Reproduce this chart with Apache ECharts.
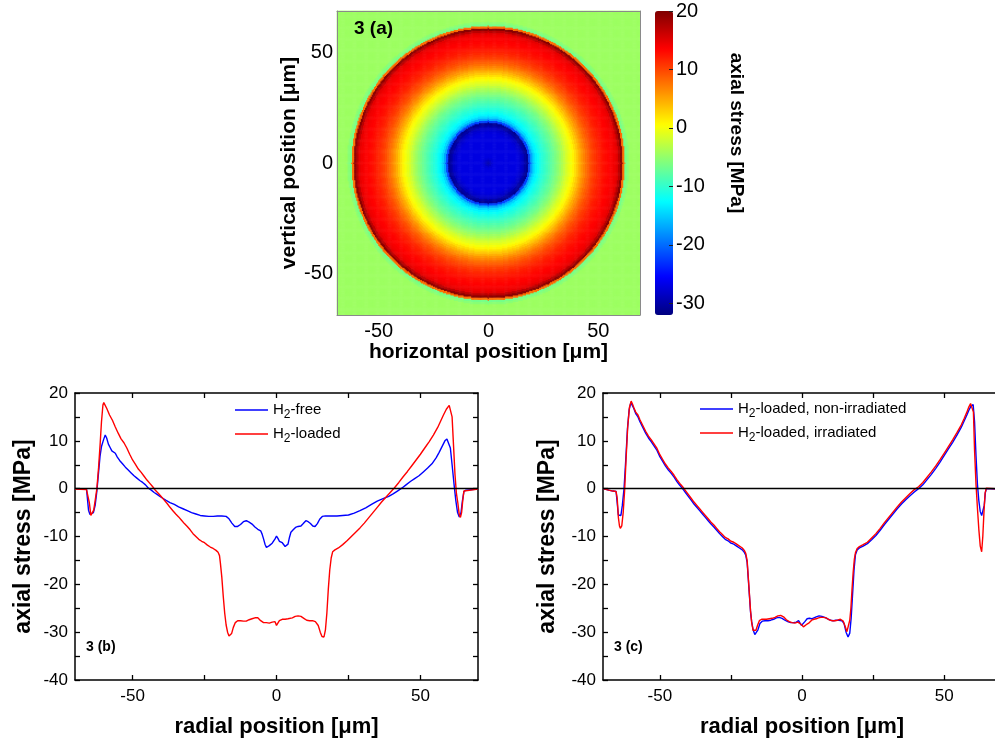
<!DOCTYPE html>
<html><head><meta charset="utf-8">
<script src="https://cdn.jsdelivr.net/npm/echarts@6/dist/echarts.min.js"></script>
<style>html,body{margin:0;padding:0;background:#fff}#c{width:995px;height:742px}</style>
</head><body><div id="c"></div>
<script>
// ---------- DATA ----------
// Panel 3(a): radial stress profile used for the 2D map (radius in µm -> stress MPa)
const mapRadius = [0,1,2,3,4,5,6,7,8,9,10,11,12,13,14,15,16,17,18,19,20,21,22,23,24,25,26,27,28,29,30,31,32,33,34,35,36,37,38,39,40,41,42,43,44,45,46,47,48,49,50,51,52,53,54,55,56,57,58,59,60,61,62,63,64,65,66,67,68,69];
const mapStress = [-29.5,-28.5,-27.5,-27,-27,-27,-27,-27,-27,-27,-27,-27,-27,-27,-27.3,-27.8,-28.5,-30,-31,-22,-17,-14.5,-13,-12,-11.2,-10.5,-9.8,-9.1,-8.4,-7.7,-7.0,-6.2,-5.4,-4.5,-3.6,-2.6,-1.6,-0.8,0.0,1.0,2.2,3.4,4.6,5.8,6.8,7.8,8.7,9.5,10.2,10.8,11.4,11.9,12.3,12.7,13.0,13.3,13.6,13.9,14.2,14.8,17.0,19.5,8,-6.5,-5.5,-4.5,-4.5,-4.5,-4.5,-4.5];
const mapTicks = [-50, 0, 50];
const colorbarTicks = [-30, -20, -10, 0, 10, 20];
const radialLabels = [-50, 0, 50];
const radialTicks = [-50, -25, 0, 25, 50];
const stressTicks = [-40,-35,-30,-25,-20,-15,-10,-5,0,5,10,15,20];
const stressLabels = [-40,-30,-20,-10,0,10,20];

// Panel 3(b)
const h2Free = [[-70,0],[-66,-0.1],[-65.6,-0.5],[-65.3,-4.5],[-64.8,-5.4],[-64.2,-5.8],[-63.6,-5.0],[-63,-3.5],[-62.4,-0.5],[-61.8,3.5],[-61.3,6.8],[-60.8,8.8],[-60.1,10.2],[-59.5,11.2],[-59,10.6],[-58.4,9.3],[-57.8,8.6],[-57.2,7.9],[-56.6,7.8],[-56,7.4],[-55.3,6.6],[-54.5,5.9],[-53.5,5.2],[-52.5,4.5],[-51.5,3.9],[-50.5,3.3],[-49.5,2.7],[-48.5,2.2],[-47.5,1.7],[-46.5,1.3],[-45.5,0.8],[-44.5,0.1],[-43.5,-0.3],[-42.5,-0.8],[-41.5,-1.2],[-40.5,-1.6],[-39.5,-2.0],[-38.5,-2.4],[-37,-2.9],[-35.5,-3.3],[-34,-3.8],[-32.5,-4.2],[-31,-4.6],[-29.5,-5.0],[-28,-5.3],[-26.5,-5.6],[-25,-5.7],[-23.5,-5.8],[-22,-5.8],[-20.5,-5.7],[-19,-5.7],[-17.5,-5.8],[-16.5,-6.3],[-15.5,-7.2],[-14.5,-7.9],[-13.5,-7.9],[-12.5,-7.5],[-11.5,-6.9],[-10.5,-6.7],[-9.5,-7.0],[-8.5,-7.4],[-7.5,-8.0],[-6.5,-8.5],[-5.5,-8.8],[-5,-9.5],[-4.5,-10.5],[-4,-11.6],[-3.5,-12.3],[-3,-12.2],[-2.5,-11.9],[-2,-11.6],[-1.5,-11.4],[-1,-11.1],[-0.5,-10.5],[0,-9.9],[0.5,-10.4],[1,-11.0],[1.5,-11.2],[2,-11.3],[2.5,-11.5],[3,-12.1],[3.5,-12.3],[4,-11.6],[4.5,-10.2],[5,-9.1],[5.8,-8.6],[6.6,-8.1],[7.5,-7.9],[8.5,-7.8],[9.3,-7.3],[10.2,-6.7],[11,-6.9],[11.8,-7.3],[12.6,-7.8],[13.4,-7.9],[14.2,-7.3],[15,-6.4],[15.9,-5.8],[17,-5.7],[19,-5.7],[21,-5.7],[23,-5.6],[25,-5.5],[27,-5.1],[29,-4.6],[31,-4.0],[33,-3.3],[35,-2.6],[37,-2.1],[39,-1.6],[40.5,-1.1],[42,-0.5],[43.5,0.1],[45,0.8],[46.5,1.5],[48,2.1],[49.5,2.7],[51,3.5],[52.5,4.3],[54,5.2],[55.5,6.5],[56.5,7.6],[57.5,8.8],[58.5,10.0],[59.2,10.4],[59.8,10.2],[60.4,8.5],[61,5.0],[61.7,0.8],[62.3,-2.5],[62.9,-5.0],[63.5,-5.9],[64.1,-5.0],[64.6,-2.5],[65.1,-0.6],[65.8,-0.3],[70,-0.1]];
const h2Loaded = [[-70,-0.1],[-66,-0.2],[-65.5,-0.4],[-65,-3],[-64.5,-5.6],[-64,-5.8],[-63.5,-4.5],[-63,-2.5],[-62.4,0],[-61.8,4.5],[-61.3,9],[-60.8,14],[-60.3,17.5],[-60,18.0],[-59.5,17.6],[-59,16.8],[-58,15.4],[-57,14.3],[-56,12.9],[-55,11.6],[-54,10.4],[-53,9.6],[-52,8.5],[-51,7.2],[-50,6.0],[-49,5.1],[-48,4.1],[-47,3.4],[-46,2.6],[-45,1.8],[-44,1.1],[-43,0.4],[-42,-0.4],[-41,-1.0],[-40,-1.7],[-39,-2.4],[-38,-3.1],[-37,-3.9],[-36,-4.6],[-35,-5.3],[-34,-5.9],[-33,-6.6],[-32,-7.3],[-31,-7.9],[-30,-8.6],[-29,-9.4],[-28,-10.0],[-27,-10.6],[-26,-11.0],[-25,-11.3],[-24,-11.8],[-23,-12.2],[-22,-12.5],[-21,-12.9],[-20.3,-13.3],[-19.8,-14.0],[-19.5,-15.5],[-19,-18.5],[-18.5,-22.5],[-18,-26],[-17.5,-28.5],[-17,-30],[-16.5,-30.8],[-16.1,-31.0],[-15.6,-30.3],[-15,-29],[-14.3,-28],[-13.5,-27.6],[-12.5,-27.6],[-11.5,-27.7],[-10.5,-27.7],[-9.5,-27.4],[-8.5,-27.2],[-7.5,-27.0],[-6.5,-27.0],[-5.5,-27.6],[-4.5,-28.0],[-3.5,-28.0],[-2.5,-28.1],[-1.5,-27.9],[-1,-28.2],[-0.5,-27.8],[0,-28.6],[0.5,-28.4],[1,-27.6],[2,-27.3],[3,-27.3],[4,-27.2],[4.5,-27.5],[5.5,-27.0],[6.5,-26.7],[7.5,-26.6],[8.5,-26.7],[9.5,-27.1],[10.5,-27.5],[11.5,-27.6],[12.5,-27.6],[13.5,-27.8],[14.5,-28.6],[15.2,-30.0],[15.8,-30.9],[16.5,-31.0],[17,-29.5],[17.5,-26],[18,-21],[18.5,-17],[19,-14.5],[19.5,-13.2],[20.3,-12.8],[21.5,-12.4],[23,-11.7],[24.5,-10.9],[26,-10.0],[27.5,-9.1],[29,-8.2],[30.5,-7.2],[32,-6.1],[33.5,-5.0],[35,-3.9],[36.5,-2.8],[38,-1.8],[39.5,-0.8],[41,0.2],[42.5,1.3],[44,2.5],[45.5,3.6],[47,4.8],[48.5,6.0],[50,7.2],[51.5,8.5],[53,9.8],[54.5,11.2],[56,12.8],[57,14.1],[58,15.4],[59,16.6],[60,17.4],[60.6,17.6],[61,15],[61.5,9],[62,3],[62.5,-1],[63,-3],[63.5,-5.5],[63.9,-6],[64.3,-5],[64.7,-2.5],[65.1,-0.5],[65.6,-0.2],[70,-0.1]];

// Panel 3(c)
const loadedNonIrr = [[-70,0],[-68,-0.3],[-66.5,-0.5],[-65.4,-0.6],[-65,-3],[-64.6,-5.5],[-64.2,-5.8],[-63.7,-5.6],[-63.2,-3.5],[-62.6,0],[-62,6],[-61.4,12.5],[-60.8,16.5],[-60.2,18.0],[-59.7,17.6],[-59.2,16.8],[-58.5,15.7],[-57.7,15.0],[-57,14.0],[-56,12.8],[-55,11.6],[-54,10.6],[-53,9.8],[-52,8.9],[-51,8.0],[-50,6.7],[-49,5.7],[-48,4.7],[-47,3.9],[-46,3.2],[-45,2.4],[-44,1.5],[-43,0.7],[-42,0],[-41,-0.8],[-40,-1.6],[-39,-2.4],[-38,-3.2],[-37,-3.9],[-36,-4.6],[-35,-5.3],[-34,-6.0],[-33,-6.7],[-32,-7.4],[-31,-8.0],[-30,-8.7],[-29,-9.4],[-28,-10.0],[-27,-10.6],[-26,-10.9],[-25,-11.4],[-24,-11.6],[-23,-12.0],[-22,-12.4],[-21,-12.8],[-20.3,-13.3],[-19.8,-13.9],[-19.3,-15.4],[-18.9,-18.8],[-18.5,-22.3],[-18.1,-25.8],[-17.7,-27.8],[-17.2,-29.5],[-16.6,-30.5],[-16.1,-30.8],[-15.5,-29.5],[-14.8,-28.2],[-14,-27.7],[-13,-27.6],[-12,-27.6],[-11,-27.5],[-10,-27.3],[-9,-27.0],[-8,-26.9],[-7,-27.1],[-6,-27.5],[-5,-27.8],[-4,-28.0],[-3,-28.0],[-2,-27.9],[-1.2,-27.6],[-0.7,-27.5],[-0.2,-28.6],[0.4,-28.5],[1,-27.8],[1.8,-27.2],[2.6,-27.1],[3.4,-27.2],[4.2,-27.0],[5,-26.8],[6,-26.6],[7,-26.7],[8,-26.9],[9,-27.2],[10,-27.5],[11,-27.6],[12,-27.5],[13,-27.5],[14,-27.6],[14.8,-28.2],[15.5,-30.0],[16.2,-31.0],[16.8,-30.2],[17.3,-27],[17.8,-22],[18.3,-17],[18.8,-13.8],[19.4,-12.8],[20.2,-12.4],[21.5,-12.0],[23,-11.5],[24.5,-10.7],[26,-9.8],[27.5,-8.7],[29,-7.5],[30.5,-6.4],[32,-5.3],[33.5,-4.2],[35,-3.2],[36.5,-2.3],[38,-1.5],[39.5,-0.7],[41,0.0],[42.5,0.8],[44,1.9],[45.5,3.0],[47,4.2],[48.5,5.5],[50,6.9],[51.5,8.3],[53,9.7],[54.5,11.2],[56,12.8],[57,14.1],[58,15.4],[58.7,16.4],[59.4,17.2],[60.2,17.6],[60.7,14],[61.2,7],[61.7,1],[62.2,-2.5],[62.7,-4.8],[63.2,-5.6],[63.7,-5.8],[64.1,-3.5],[64.5,-0.8],[64.9,0],[65.4,-0.1],[70,-0.1]];
const loadedIrr = [[-70,0],[-68,-0.3],[-66.5,-0.5],[-65.4,-0.6],[-65,-2],[-64.6,-6],[-64.2,-7.8],[-63.9,-8.3],[-63.4,-7.8],[-62.9,-5],[-62.4,-0.5],[-61.9,6],[-61.3,13],[-60.7,17],[-60.1,18.3],[-59.7,17.8],[-59.2,17.0],[-58.5,16.0],[-57.7,15.4],[-57,14.4],[-56,13.2],[-55,12.0],[-54,11.0],[-53,10.2],[-52,9.3],[-51,8.4],[-50,7.1],[-49,6.1],[-48,5.1],[-47,4.3],[-46,3.6],[-45,2.8],[-44,1.9],[-43,1.1],[-42,0.4],[-41,-0.4],[-40,-1.2],[-39,-2.0],[-38,-2.8],[-37,-3.5],[-36,-4.2],[-35,-4.9],[-34,-5.6],[-33,-6.3],[-32,-7.0],[-31,-7.6],[-30,-8.3],[-29,-9.0],[-28,-9.6],[-27,-10.2],[-26,-10.5],[-25,-11.0],[-24,-11.2],[-23,-11.6],[-22,-12.0],[-21,-12.4],[-20.3,-12.9],[-19.8,-13.5],[-19.3,-15],[-18.9,-18.5],[-18.5,-22],[-18.1,-25.5],[-17.7,-28],[-17.2,-29.6],[-16.7,-30.0],[-16.2,-29.6],[-15.6,-28.5],[-15,-27.6],[-14.2,-27.3],[-13.5,-27.2],[-12.5,-27.3],[-11.5,-27.2],[-10.5,-27.1],[-9.5,-26.9],[-8.5,-26.6],[-7.5,-26.5],[-6.5,-26.8],[-5.5,-27.4],[-4.5,-27.8],[-3.5,-28.0],[-2.5,-28.1],[-1.5,-27.9],[-0.8,-27.9],[-0.2,-28.4],[0.5,-28.9],[1,-28.8],[1.8,-28.3],[2.6,-28.0],[3.4,-27.5],[4.2,-27.3],[5,-27.2],[5.8,-27.0],[6.6,-26.9],[7.5,-26.9],[8.5,-27.0],[9.5,-27.4],[10.5,-27.6],[11.5,-27.6],[12.5,-27.5],[13.5,-27.3],[14.5,-27.7],[15.2,-28.8],[15.8,-29.9],[16.3,-29.6],[16.8,-27.5],[17.2,-25],[17.6,-21],[18,-17.5],[18.4,-14.8],[18.8,-13.4],[19.4,-12.5],[20.2,-12.1],[21.5,-11.7],[23,-11.2],[24.5,-10.3],[26,-9.4],[27.5,-8.3],[29,-7.1],[30.5,-6.0],[32,-4.9],[33.5,-3.8],[35,-2.8],[36.5,-1.9],[38,-1.0],[39.5,-0.2],[41,0.4],[42.5,1.3],[44,2.4],[45.5,3.5],[47,4.7],[48.5,6.0],[50,7.4],[51.5,8.8],[53,10.2],[54.5,11.7],[56,13.3],[57,14.6],[58,16.0],[58.7,17.1],[59.3,17.8],[59.9,18.2],[60.3,16],[60.7,8],[61.2,1],[61.7,-4],[62.2,-8.5],[62.7,-12],[63.2,-13.2],[63.6,-10],[64,-5],[64.4,-1],[64.8,0.1],[65.3,-0.1],[70,-0.1]];

// ---------- BUILD ----------
const FONT = 'Arial, "Liberation Sans", sans-serif';
const mapStep = 0.5;
const mapCoords = [];
for (let v = -69; v <= 69 + 1e-9; v += mapStep) mapCoords.push(+v.toFixed(2));
function stressAtRadius(r) {
  let best = 0, bd = Infinity;
  for (let k = 0; k < mapRadius.length; k++) {
    const d = Math.abs(mapRadius[k] - r);
    if (d < bd) { bd = d; best = k; }
  }
  return mapStress[best];
}
const mapCells = [];
for (let i = 0; i < mapCoords.length; i++) {
  for (let j = 0; j < mapCoords.length; j++) {
    mapCells.push([i, j, stressAtRadius(Math.hypot(mapCoords[i], mapCoords[j]))]);
  }
}
const jet = ['#00007f','#0000ff','#007fff','#00ffff','#7fff7f','#ffff00','#ff7f00','#ff0000','#7f0000'];

const black = '#000';
const axisLineB = { show: true, onZero: false, lineStyle: { color: black, width: 1.5 } };
const tickStyle = { color: black, width: 1.3 };
function bottomRadial(grid) {
  return { gridIndex: grid, type: 'value', min: -70, max: 70, position: 'bottom',
    axisLine: axisLineB,
    axisTick: { show: true, inside: true, length: 5, customValues: radialTicks, lineStyle: tickStyle },
    axisLabel: { show: true, customValues: radialLabels, fontSize: 17, color: black, fontFamily: FONT, margin: 8 },
    splitLine: { show: false },
    name: 'radial position [μm]', nameLocation: 'middle', nameGap: 36,
    nameTextStyle: { fontSize: 22, fontWeight: 'bold', color: black, fontFamily: FONT } };
}
function topRadial(grid) {
  return { gridIndex: grid, type: 'value', min: -70, max: 70, position: 'top',
    axisLine: axisLineB,
    axisTick: { show: true, inside: true, length: 5, customValues: radialTicks, lineStyle: tickStyle },
    axisLabel: { show: false }, splitLine: { show: false } };
}
function leftStress(grid, gap) {
  return { gridIndex: grid, type: 'value', min: -40, max: 20, position: 'left',
    axisLine: axisLineB,
    axisTick: { show: true, inside: true, length: 5, customValues: stressTicks, lineStyle: tickStyle },
    axisLabel: { show: true, customValues: stressLabels, fontSize: 17, color: black, fontFamily: FONT, margin: 7 },
    splitLine: { show: false },
    name: 'axial stress [MPa]', nameLocation: 'middle', nameGap: gap,
    nameTextStyle: { fontSize: 23, fontWeight: 'bold', color: black, fontFamily: FONT } };
}
function rightStress(grid) {
  return { gridIndex: grid, type: 'value', min: -40, max: 20, position: 'right',
    axisLine: axisLineB,
    axisTick: { show: true, inside: true, length: 5, customValues: stressTicks, lineStyle: tickStyle },
    axisLabel: { show: false }, splitLine: { show: false } };
}
const zeroLine = { silent: true, symbol: ['none', 'none'], label: { show: false },
  lineStyle: { color: black, width: 1.3, type: 'solid' }, data: [{ yAxis: 0 }] };
function lineSeries(name, data, color, xi, yi, extra) {
  return Object.assign({ type: 'line', name, data, xAxisIndex: xi, yAxisIndex: yi,
    showSymbol: false, symbol: 'none', smooth: false,
    lineStyle: { color, width: 1.4 }, itemStyle: { color }, emphasis: { disabled: true }, z: 3 }, extra || {});
}
const legendText = { fontSize: 15, color: black, fontFamily: FONT, lineHeight: 22,
  rich: { sub: { fontSize: 12, lineHeight: 12, verticalAlign: 'bottom', color: black, fontFamily: FONT } } };
const subFmt = n => n.replace('H2', 'H{sub|2}');
const mapAxisLine = { show: true, onZero: false, lineStyle: { color: '#8a8a8a', width: 1 } };

const option = {
  animation: false,
  backgroundColor: '#fff',
  textStyle: { fontFamily: FONT },
  title: [
    { text: '3 (a)', left: 354, top: 19, padding: 0, textStyle: { fontSize: 19, fontWeight: 'bold', color: black, fontFamily: FONT } },
    { text: '3 (b)', left: 86, top: 640, padding: 0, textStyle: { fontSize: 14, fontWeight: 'bold', color: black, fontFamily: FONT } },
    { text: '3 (c)', left: 614, top: 640, padding: 0, textStyle: { fontSize: 14, fontWeight: 'bold', color: black, fontFamily: FONT } }
  ],
  grid: [
    { left: 337, top: 11, width: 303, height: 304, outerBoundsMode: 'none', containLabel: false },
    { left: 655, top: 11, width: 18, height: 304, outerBoundsMode: 'none', containLabel: false },
    { left: 75, top: 393, width: 403, height: 287, outerBoundsMode: 'none', containLabel: false },
    { left: 603, top: 393, width: 398, height: 287, outerBoundsMode: 'none', containLabel: false },
    { left: 337, top: 11, width: 303, height: 304, outerBoundsMode: 'none', containLabel: false }
  ],
  visualMap: {
    type: 'continuous', min: -32, max: 20, seriesIndex: 0, calculable: false,
    left: 655, top: 11, itemWidth: 18, itemHeight: 304, padding: 0, text: null,
    showLabel: false, hoverLink: false,
    inRange: { color: jet }
  },
  legend: [
    { data: ['H2-free', 'H2-loaded'], orient: 'vertical', left: 235, top: 399, padding: 0, itemGap: 2,
      icon: 'rect', itemWidth: 33, itemHeight: 1.6, formatter: subFmt, textStyle: legendText, selectedMode: false },
    { data: ['H2-loaded, non-irradiated', 'H2-loaded, irradiated'], orient: 'vertical', left: 700, top: 398, padding: 0, itemGap: 2,
      icon: 'rect', itemWidth: 33, itemHeight: 1.6, formatter: subFmt, textStyle: legendText, selectedMode: false }
  ],
  xAxis: [
    { gridIndex: 0, type: 'category', data: mapCoords, show: false },
    { gridIndex: 1, type: 'value', min: 0, max: 1, show: false },
    bottomRadial(2), topRadial(2),
    bottomRadial(3), topRadial(3),
    { gridIndex: 4, type: 'value', min: -69, max: 69, position: 'bottom', z: 10,
      axisLine: mapAxisLine, axisTick: { show: false },
      axisLabel: { show: true, customValues: mapTicks, fontSize: 20, color: black, fontFamily: FONT, margin: 6 },
      splitLine: { show: false },
      name: 'horizontal position [μm]', nameLocation: 'middle', nameGap: 25,
      nameTextStyle: { fontSize: 21, fontWeight: 'bold', color: black, fontFamily: FONT } },
    { gridIndex: 4, type: 'value', min: -69, max: 69, position: 'top', z: 10,
      axisLine: mapAxisLine, axisTick: { show: false }, axisLabel: { show: false }, splitLine: { show: false } }
  ],
  yAxis: [
    { gridIndex: 0, type: 'category', data: mapCoords, show: false },
    { gridIndex: 1, type: 'value', min: -32, max: 20, position: 'right', z: 10,
      axisLine: { show: false, onZero: false },
      axisTick: { show: true, inside: true, length: 4, customValues: colorbarTicks, lineStyle: { color: '#222', width: 1 } },
      axisLabel: { show: true, customValues: colorbarTicks, fontSize: 20, color: black, fontFamily: FONT, margin: 3 },
      splitLine: { show: false },
      name: 'axial stress [MPa]', nameLocation: 'middle', nameRotate: -90, nameGap: 54,
      nameTextStyle: { fontSize: 19, fontWeight: 'bold', color: black, fontFamily: FONT, padding: [0, 60, 0, 0] } },
    leftStress(2, 40), rightStress(2),
    leftStress(3, 44), rightStress(3),
    { gridIndex: 4, type: 'value', min: -69, max: 69, position: 'left', z: 10,
      axisLine: mapAxisLine, axisTick: { show: false },
      axisLabel: { show: true, customValues: mapTicks, fontSize: 20, color: black, fontFamily: FONT, margin: 4 },
      splitLine: { show: false },
      name: 'vertical position [μm]', nameLocation: 'middle', nameGap: 37,
      nameTextStyle: { fontSize: 21, fontWeight: 'bold', color: black, fontFamily: FONT } },
    { gridIndex: 4, type: 'value', min: -69, max: 69, position: 'right', z: 10,
      axisLine: mapAxisLine, axisTick: { show: false }, axisLabel: { show: false }, splitLine: { show: false } }
  ],
  series: [
    { type: 'heatmap', xAxisIndex: 0, yAxisIndex: 0, data: mapCells, progressive: 0, silent: true,
      emphasis: { disabled: true }, itemStyle: { borderWidth: 0 } },
    lineSeries('H2-free', h2Free, '#0000ff', 2, 2, { markLine: zeroLine }),
    lineSeries('H2-loaded', h2Loaded, '#ff0000', 2, 2),
    lineSeries('H2-loaded, non-irradiated', loadedNonIrr, '#0000ff', 4, 4, { markLine: zeroLine }),
    lineSeries('H2-loaded, irradiated', loadedIrr, '#ff0000', 4, 4)
  ]
};
const chart = echarts.init(document.getElementById('c'), null, { renderer: 'canvas' });
chart.setOption(option);
</script>
</body></html>
